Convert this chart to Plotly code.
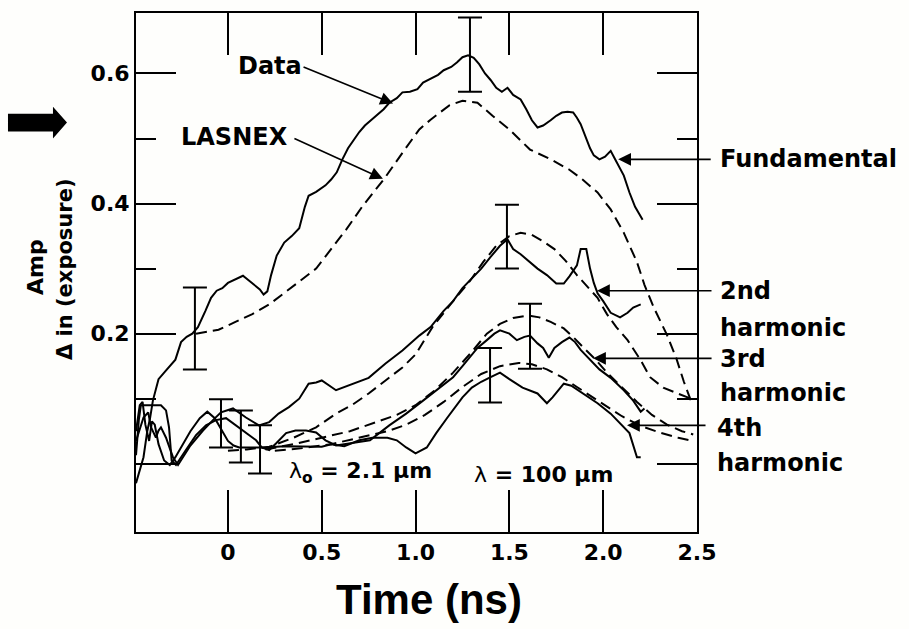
import plotly.graph_objects as go

# ---------------- data (time in ns, amplitude) ----------------
fund_t = [-0.49, -0.47, -0.45, -0.43, -0.415, -0.40, -0.37, -0.34, -0.31, -0.28, -0.25, -0.22, -0.19, -0.16,
          -0.12, -0.09, -0.06, -0.03, 0.0, 0.04, 0.08, 0.11, 0.14, 0.17, 0.19, 0.21, 0.23, 0.26, 0.30, 0.34,
          0.38, 0.41, 0.43, 0.47, 0.52, 0.55, 0.58, 0.61, 0.64, 0.67, 0.70, 0.73, 0.76, 0.79, 0.83, 0.86,
          0.90, 0.93, 0.97, 1.01, 1.04, 1.08, 1.12, 1.15, 1.19, 1.22, 1.25, 1.28, 1.31, 1.34, 1.37, 1.40,
          1.43, 1.46, 1.49, 1.52, 1.56, 1.59, 1.62, 1.65, 1.68, 1.72, 1.75, 1.78, 1.81, 1.84, 1.86, 1.88,
          1.91, 1.93, 1.95, 1.98, 2.01, 2.04, 2.06, 2.08, 2.11, 2.14, 2.17, 2.19, 2.21]
fund_data = [-0.03, -0.01, 0.01, 0.05, 0.07, 0.097, 0.13, 0.14, 0.15, 0.16, 0.187, 0.195, 0.20, 0.21,
             0.235, 0.255, 0.266, 0.27, 0.278, 0.283, 0.289, 0.282, 0.275, 0.268, 0.26, 0.265, 0.29, 0.32, 0.34, 0.35,
             0.362, 0.395, 0.412, 0.418, 0.428, 0.437, 0.448, 0.468, 0.485, 0.498, 0.51, 0.52, 0.528, 0.535, 0.545, 0.555,
             0.562, 0.571, 0.572, 0.576, 0.586, 0.592, 0.598, 0.605, 0.61, 0.617, 0.625, 0.628, 0.624, 0.614, 0.60, 0.59,
             0.578, 0.572, 0.578, 0.567, 0.56, 0.545, 0.528, 0.517, 0.52, 0.528, 0.535, 0.54, 0.541, 0.54, 0.532, 0.522,
             0.50, 0.485, 0.474, 0.468, 0.472, 0.481, 0.47, 0.46, 0.443, 0.417, 0.395, 0.385, 0.375]

fund_lt = [-0.17, -0.05, 0.04, 0.13, 0.22, 0.30, 0.38, 0.47, 0.55, 0.63, 0.72, 0.83, 0.93, 1.02, 1.08, 1.18,
           1.25, 1.33, 1.41, 1.50, 1.61, 1.72, 1.82, 1.89, 1.97, 2.04, 2.11, 2.18, 2.22, 2.27, 2.34, 2.39, 2.43, 2.47]
fund_lasnex = [0.20, 0.206, 0.218, 0.23, 0.245, 0.262, 0.28, 0.30, 0.33, 0.36, 0.397, 0.437, 0.478, 0.514, 0.529, 0.551,
               0.558, 0.555, 0.535, 0.514, 0.483, 0.468, 0.452, 0.437, 0.417, 0.391, 0.355, 0.31, 0.275, 0.24, 0.198,
               0.162, 0.126, 0.095]

h2_t = [-0.49, -0.45, -0.425, -0.41, -0.384, -0.37, -0.357, -0.33, -0.293, -0.266, -0.2, -0.133, -0.08, -0.037,
        0.027, 0.096, 0.165, 0.22, 0.27, 0.325, 0.38, 0.43, 0.47, 0.50, 0.576, 0.666, 0.75, 0.84, 0.93, 1.02,
        1.08, 1.15, 1.2, 1.25, 1.3, 1.35, 1.4, 1.45, 1.49, 1.52, 1.56, 1.6, 1.65, 1.7, 1.75, 1.79, 1.82, 1.86,
        1.88, 1.91, 1.93, 1.95, 1.97, 2.0, 2.04, 2.09, 2.13, 2.16, 2.2]
h2_data = [0.035, 0.071, 0.079, 0.056, 0.04, 0.051, 0.056, 0.04, 0.01, -0.002, 0.028, 0.051, 0.067, 0.079,
           0.085, 0.071, 0.059, 0.064, 0.077, 0.087, 0.10, 0.123, 0.125, 0.128, 0.113, 0.123, 0.132, 0.154, 0.174, 0.197,
           0.21, 0.235, 0.25, 0.27, 0.285, 0.30, 0.318, 0.335, 0.345, 0.33, 0.322, 0.312, 0.30, 0.29, 0.277, 0.277, 0.288, 0.305,
           0.33, 0.33, 0.30, 0.278, 0.262, 0.25, 0.232, 0.225, 0.232, 0.24, 0.245]

h2_lt = [0.0, 0.1, 0.22, 0.35, 0.47, 0.576, 0.66, 0.75, 0.84, 0.93, 1.0, 1.09, 1.2, 1.29, 1.36, 1.43, 1.5, 1.56,
         1.62, 1.68, 1.74, 1.8, 1.86, 1.92, 1.97, 2.02, 2.07, 2.13, 2.2, 2.25, 2.32, 2.38, 2.45, 2.48]
h2_lasnex = [0.02, 0.022, 0.026, 0.04, 0.056, 0.077, 0.09, 0.108, 0.128, 0.148, 0.168, 0.21, 0.25, 0.281, 0.31, 0.335,
             0.35, 0.355, 0.352, 0.342, 0.33, 0.312, 0.29, 0.27, 0.255, 0.23, 0.21, 0.19, 0.159, 0.133, 0.117, 0.11,
             0.102, 0.097]

h3_t = [-0.49, -0.475, -0.464, -0.357, -0.33, -0.314, -0.30, -0.277, -0.224, -0.17, -0.117, -0.064, -0.01, 0.043,
        0.096, 0.15, 0.18, 0.22, 0.256, 0.31, 0.36, 0.416, 0.47, 0.52, 0.576, 0.65, 0.757, 0.86, 0.95, 1.04, 1.13,
        1.2, 1.25, 1.33, 1.38, 1.42, 1.45, 1.5, 1.54, 1.58, 1.61, 1.65, 1.68, 1.71, 1.74, 1.78, 1.82, 1.85, 1.88,
        1.93, 1.98, 2.04, 2.11, 2.16, 2.2, 2.22]
h3_data = [0.013, 0.067, 0.09, 0.09, 0.082, 0.056, 0.005, -0.002, 0.021, 0.044, 0.059, 0.067, 0.07, 0.059,
           0.047, 0.036, 0.025, 0.021, 0.031, 0.047, 0.051, 0.051, 0.048, 0.036, 0.028, 0.031, 0.036, 0.059, 0.077, 0.097, 0.117,
           0.133, 0.15, 0.178, 0.19, 0.2, 0.205, 0.2, 0.19, 0.195, 0.197, 0.185, 0.178, 0.163, 0.178, 0.187, 0.194, 0.187, 0.175,
           0.16, 0.145, 0.132, 0.113, 0.097, 0.08, 0.085]

h3_lt = [0.2, 0.35, 0.5, 0.65, 0.8, 0.9, 1.0, 1.1, 1.2, 1.3, 1.38, 1.45, 1.52, 1.6, 1.66, 1.72, 1.79, 1.85, 1.9,
         1.96, 2.02, 2.1, 2.18, 2.26, 2.34, 2.42, 2.48]
h3_lasnex = [0.022, 0.03, 0.04, 0.05, 0.065, 0.075, 0.09, 0.112, 0.14, 0.172, 0.2, 0.215, 0.224, 0.228, 0.225, 0.218,
             0.208, 0.192, 0.177, 0.16, 0.14, 0.118, 0.095, 0.075, 0.06, 0.05, 0.045]

h4_t = [-0.49, -0.47, -0.455, -0.44, -0.42, -0.405, -0.39, -0.37, -0.34, -0.31, -0.28, -0.24, -0.2, -0.15, -0.11,
        -0.07, -0.03, 0.0, 0.03, 0.06, 0.1, 0.2, 0.3, 0.4, 0.5, 0.55, 0.62, 0.7, 0.77, 0.85, 0.9, 0.95, 1.0, 1.06,
        1.11, 1.17, 1.25, 1.3, 1.35, 1.4, 1.45, 1.5, 1.57, 1.65, 1.7, 1.73, 1.79, 1.83, 1.89, 1.97, 2.04, 2.11,
        2.14, 2.18, 2.2]
h4_data = [0.05, 0.09, 0.095, 0.06, 0.035, 0.065, 0.06, 0.03, 0.005, -0.002, 0.01, 0.03, 0.05, 0.07, 0.08,
           0.07, 0.05, 0.035, 0.028, 0.025, 0.025, 0.025, 0.027, 0.027, 0.026, 0.03, 0.027, 0.036, 0.04, 0.04, 0.036, 0.025,
           0.016, 0.025, 0.047, 0.071, 0.102, 0.117, 0.126, 0.133, 0.14, 0.13, 0.117, 0.108, 0.093, 0.102, 0.123, 0.12,
           0.108, 0.093, 0.077, 0.056, 0.047, 0.01, 0.01]

h4_lt = [0.25, 0.4, 0.55, 0.7, 0.85, 0.95, 1.05, 1.15, 1.25, 1.35, 1.45, 1.55, 1.62, 1.7, 1.78, 1.86, 1.94, 2.02,
         2.1, 2.2, 2.3, 2.4, 2.48]
h4_lasnex = [0.02, 0.024, 0.03, 0.04, 0.05, 0.06, 0.075, 0.095, 0.118, 0.138, 0.15, 0.155, 0.153, 0.145, 0.133,
             0.118, 0.103, 0.088, 0.073, 0.058, 0.048, 0.04, 0.035]

# error bars
eb_t = [-0.176, 1.29, 1.487, 1.61, 1.397, -0.037, 0.069, 0.171]
eb_v = [0.208, 0.629, 0.349, 0.196, 0.136, 0.062, 0.042, 0.022]
eb_err = [0.063, 0.057, 0.049, 0.05, 0.042, 0.037, 0.04, 0.037]

x_ticks = [0, 0.5, 1.0, 1.5, 2.0, 2.5]
x_ticktext = ["0", "0.5", "1.0", "1.5", "2.0", "2.5"]
y_ticks = [0.0, 0.2, 0.4, 0.6]
y_ticktext = ["", "0.2", "0.4", "0.6"]
y_minor = [0.1, 0.3, 0.5]

# ---------------- figure ----------------
W, H = 909, 629
L, R, T, B = 136, 212, 11, 97
PW, PH = W - L - R, H - T - B


def pxx(p):
    return (p - L) / PW


def pxy(p):
    return (H - B - p) / PH


fig = go.Figure()
solid = dict(color="black", width=2)
dashed = dict(color="black", width=2, dash="11px,6px")

for t, v in [(fund_t, fund_data), (h2_t, h2_data), (h3_t, h3_data), (h4_t, h4_data)]:
    fig.add_trace(go.Scatter(x=t, y=v, mode="lines", line=solid, hoverinfo="skip"))
for t, v in [(fund_lt, fund_lasnex), (h2_lt, h2_lasnex), (h3_lt, h3_lasnex), (h4_lt, h4_lasnex)]:
    fig.add_trace(go.Scatter(x=t, y=v, mode="lines", line=dashed, hoverinfo="skip"))

fig.add_trace(go.Scatter(x=eb_t, y=eb_v, mode="markers",
                         marker=dict(size=1, color="rgba(0,0,0,0)"),
                         error_y=dict(type="data", array=eb_err, color="black", thickness=2, width=12),
                         hoverinfo="skip"))

lab_font = dict(family="DejaVu Sans", size=24, color="black", weight="bold")

# arrows pointing to curves
arrows = [
    (0.88, 0.554, -91, -37),    # Data
    (0.826, 0.438, -90, -41),   # LASNEX
    (2.08, 0.468, 94, 0),       # Fundamental
    (1.967, 0.266, 116, 0),     # 2nd
    (1.946, 0.162, 120, 0),     # 3rd
    (2.127, 0.059, 80, 0),      # 4th
]
for x, y, ax, ay in arrows:
    fig.add_annotation(x=x, y=y, ax=ax, ay=ay, text="", showarrow=True, arrowhead=2,
                       arrowsize=1.6, arrowwidth=1.6, arrowcolor="black")

# labels inside plot
fig.add_annotation(x=0.224, y=0.612, text="Data", showarrow=False, font=lab_font)
fig.add_annotation(x=0.037, y=0.502, text="LASNEX", showarrow=False, font=lab_font)
fig.add_annotation(x=0.709, y=-0.013,
                   text="<span style='font-weight:normal'>λ</span><sub>o</sub> = 2.1 μm",
                   showarrow=False, font=dict(family="DejaVu Sans", size=22, color="black", weight="bold"))
fig.add_annotation(x=1.68, y=-0.016,
                   text="<span style='font-weight:normal'>λ</span> = 100 μm",
                   showarrow=False, font=dict(family="DejaVu Sans", size=22, color="black", weight="bold"))

# right-side labels
right_labels = [("Fundamental", 718, 158), ("2nd", 718, 290), ("harmonic", 718, 327),
                ("3rd", 718, 358), ("harmonic", 718, 392), ("4th", 715, 428), ("harmonic", 715, 463)]
for txt, px, py in right_labels:
    fig.add_annotation(x=pxx(px), y=pxy(py), xref="paper", yref="paper", text=txt, showarrow=False,
                       xanchor="left", yanchor="middle", font=lab_font)

# axis titles
fig.add_annotation(x=pxx(35), y=pxy(266), xref="paper", yref="paper", text="Amp", textangle=-90,
                   showarrow=False, xanchor="center", yanchor="middle",
                   font=dict(family="DejaVu Sans", size=22, color="black", weight="bold"))
fig.add_annotation(x=pxx(65), y=pxy(268), xref="paper", yref="paper", text="Δ in (exposure)", textangle=-90,
                   showarrow=False, xanchor="center", yanchor="middle",
                   font=dict(family="DejaVu Sans", size=21, color="black", weight="bold"))
fig.add_annotation(x=pxx(429), y=pxy(600), xref="paper", yref="paper", text="Time (ns)", showarrow=False,
                   xanchor="center", yanchor="middle",
                   font=dict(family="Liberation Sans, Arial", size=42, color="black", weight="bold"))

# big block arrow on the left
pts = [(8, 112), (53, 112), (53, 105), (67, 121), (53, 137), (53, 130), (8, 130)]
path = "M " + " L ".join(f"{pxx(a):.4f},{pxy(b):.4f}" for a, b in pts) + " Z"
fig.add_shape(type="path", path=path, xref="paper", yref="paper", fillcolor="black",
              line=dict(color="black", width=0))

tick_font = dict(family="DejaVu Sans", size=22, color="black", weight="bold")
fig.update_xaxes(range=[-0.49, 2.5], tickvals=x_ticks, ticktext=x_ticktext, ticks="inside", ticklen=42,
                 tickwidth=2, tickcolor="black", showline=True, linewidth=2, linecolor="black",
                 mirror="ticks", showgrid=False, zeroline=False, tickfont=tick_font)
fig.update_yaxes(range=[-0.105, 0.693], tickvals=y_ticks, ticktext=y_ticktext, ticks="inside", ticklen=40,
                 tickwidth=2, tickcolor="black", showline=True, linewidth=2, linecolor="black",
                 mirror="ticks", showgrid=False, zeroline=False, tickfont=tick_font,
                 minor=dict(tickvals=y_minor, ticks="inside", ticklen=20, tickwidth=2, tickcolor="black",
                            showgrid=False))

fig.update_layout(width=W, height=H, margin=dict(l=L, r=R, t=T, b=B), showlegend=False,
                  paper_bgcolor="#fefefc", plot_bgcolor="#fefefc")

fig.write_html("out.html", config={"displayModeBar": False},
               post_script="document.body.style.margin='0px';document.body.style.overflow='hidden';")
